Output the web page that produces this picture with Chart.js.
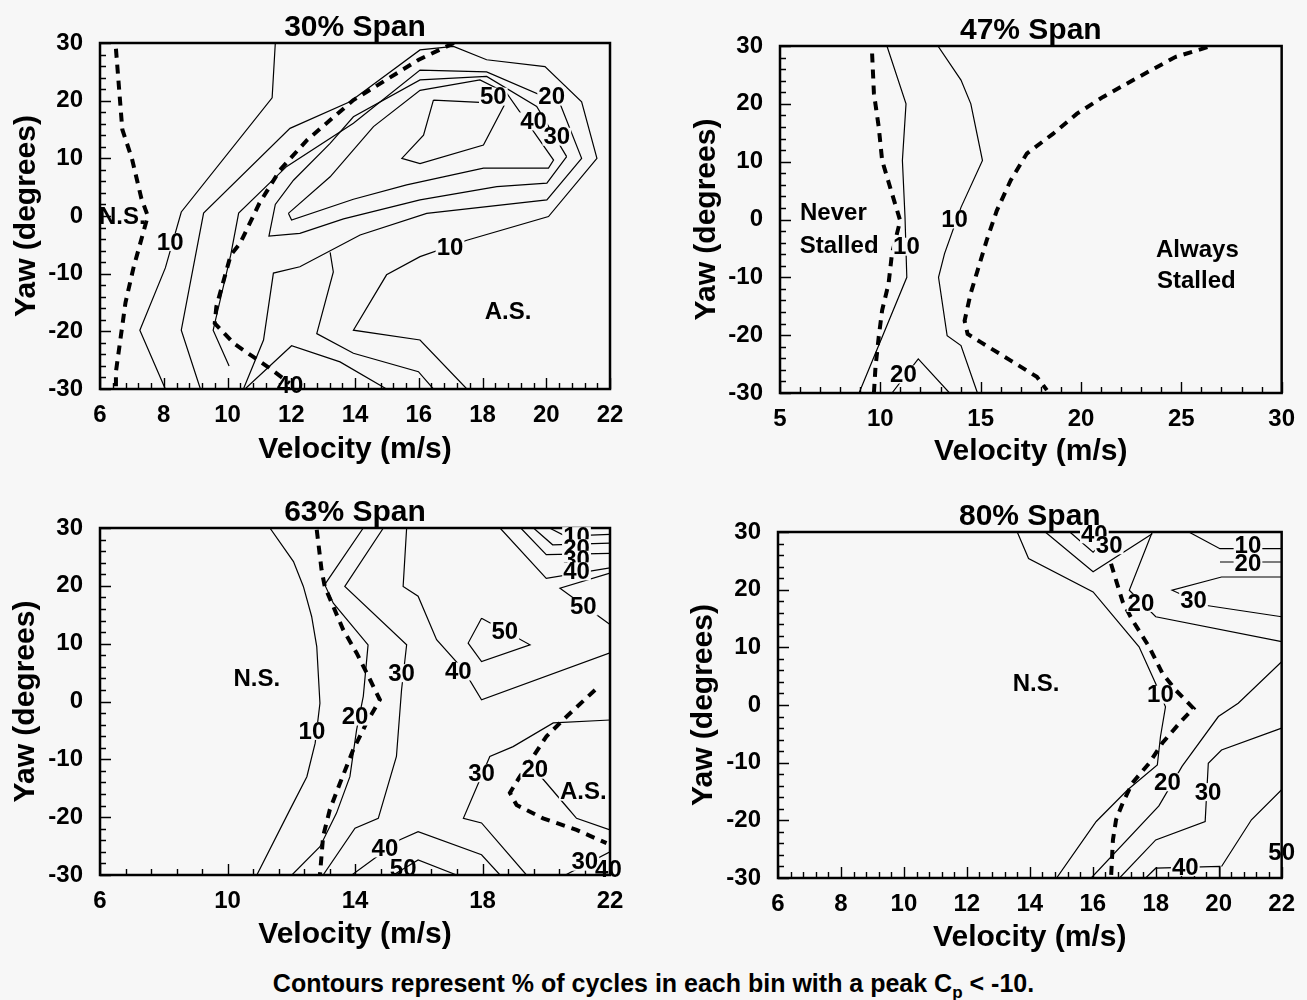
<!DOCTYPE html>
<html lang="en">
<head>
<meta charset="UTF-8">
<title>Stall contours by span</title>
<script src="https://cdn.jsdelivr.net/npm/chart.js@4.4.1/dist/chart.umd.min.js"></script>
<style>
  body { margin: 0; background: #f7f7f7; width: 1307px; height: 1000px; position: relative; overflow: hidden;
         font-family: 'Liberation Sans', Arial, sans-serif; }
  canvas { position: absolute; }
  #note { position: absolute; left: 0; width: 1307px; top: 969px; text-align: center; font-weight: bold; font-size: 25px; }
  #note sub { font-size: 17px; }
</style>
</head>
<body>
<canvas id="c30" width="640" height="480" style="left:0;top:0"></canvas>
<canvas id="c47" width="627" height="480" style="left:680px;top:0"></canvas>
<canvas id="c63" width="640" height="470" style="left:0;top:490px"></canvas>
<canvas id="c80" width="627" height="470" style="left:680px;top:490px"></canvas>
<div id="note">Contours represent % of cycles in each bin with a peak C<sub>p</sub> &lt; -10.</div>

<script>
// ---- data: [velocity (m/s), yaw (deg)] ----

// 30% span
const s30_c10 = [[11.5,30],[11.4,20.5],[8.55,0.7],[8.05,-9],[7.25,-19.8],[8.05,-30]];
const s30_loop = [[9.15,-30],[8.55,-19.8],[9.25,0.5],[11.96,15.2],[13.84,19.8],[16.04,28.8],[17.09,29.4],[18.13,27.1],[19.96,25.9],[21.11,19.8],[21.59,10.0],[20.07,-0.1],[17.51,-4.2],[16.04,-7.05],[14.99,-10.2],[13.95,-19.8],[16.04,-21.5],[17.51,-30]];
const s30_c20 = [[10.05,-26],[9.55,-19.8],[10.1,-6.8],[10.35,0.5],[11.86,8.6],[13.95,16.1],[16.04,25.3],[18.13,25.0],[20.43,19.5],[21.11,10.0],[20.02,2.8],[16.25,0.46],[14.16,-3.3],[12.27,-8.8],[11.44,-9.9],[11.13,-21.5],[10.5,-30]];
const s30_c30 = [[20.64,10.3],[20.02,5.7],[18.45,5.1],[16.04,2.8],[13.64,-0.5],[12.27,-3.0],[11.3,-3.5],[11.5,2],[12.07,6.2],[13.22,12.6],[13.95,17.2],[16.04,23.6],[18.13,24.2],[19.7,19.0],[20.64,10.3]];
const s30_c40 = [[11.91,0.46],[12.01,-0.7],[13.95,2.9],[15.62,5.4],[18.03,8.3],[20.07,8.3],[20.23,9.7],[18.76,21.3],[17.92,23.6],[16.04,21.8],[14.58,15.5],[13.22,6.8],[11.91,0.46]];
const s30_c50 = [[16.46,20.1],[18.71,19.5],[18.03,12.3],[16.04,9.1],[15.47,10.0],[16.15,14.0],[16.46,20.1]];
const s30_low = [[13.22,-6.3],[13.32,-9.7],[12.8,-20.4],[13.95,-23.8],[15.99,-27.0],[16.46,-30]];
const s30_bot = [[10.55,-30],[12.01,-22.5],[13.53,-25.3],[14.99,-30]];
const s30_nsLine = [[6.5,29],[6.6,22],[6.7,15],[7.0,10],[7.3,3],[7.5,0],[7.2,-6],[7.05,-9],[6.8,-15],[6.65,-21],[6.5,-27],[6.5,-30]];
const s30_asLine = [[17.1,30],[16.0,27.1],[13.95,20.1],[12.5,13.2],[11.65,8],[11.0,2.2],[10.4,-4.7],[10.1,-6.8],[9.65,-15.7],[9.6,-18.6],[10.2,-22.1],[10.8,-24.4],[11.25,-26.1],[11.95,-29]];
const s30_labels = [['N.S.',6.7,0,1],['10',8.2,-4.5],['10',16.98,-5.4],['50',18.34,20.7],['20',20.17,20.7],['40',19.6,16.4],['30',20.33,13.75],['A.S.',18.8,-16.6,1],['40',11.96,-29.3,1]];

// 47% span
const s47_c10a = [[10.33,30],[11.28,20.0],[11.1,10.2],[11.23,0.4],[11.32,-10.0],[8.94,-30]];
const s47_c10b = [[12.87,30],[14.02,24.1],[14.51,20.0],[15.09,10.2],[14.02,2.1],[13.2,-5.9],[12.9,-10.0],[13.33,-20.1],[14.02,-21.8],[14.84,-30]];
const s47_c20 = [[10.58,-30],[11.89,-24.1],[13.45,-30]];
const s47_nsLine = [[9.59,28.7],[9.68,21.8],[9.92,16.0],[10.09,10.2],[10.58,4.5],[10.99,-0.2],[10.58,-5.9],[10.41,-11.1],[10.09,-15.7],[9.92,-20.3],[9.76,-25.5],[9.68,-30]];
const s47_asLine = [[26.3,29.8],[24.7,28.1],[22.7,24.3],[21.1,21.2],[19.8,18.3],[18.6,14.8],[17.3,11.4],[16.5,6.8],[15.8,1.5],[15.3,-3.6],[14.9,-8.2],[14.5,-12.8],[14.2,-17.5],[14.35,-19.8],[15.0,-21.2],[16.5,-24.4],[17.8,-27.2],[18.3,-29.5]];
const s47_labels = [['Never',7.66,1.3,1],['Stalled',7.95,-4.4,1],['10',11.3,-4.7],['10',13.7,0],['20',11.15,-26.8],['Always',25.8,-5.1,1],['Stalled',25.75,-10.5,1]];

// 63% span
const s63_c10 = [[11.33,30],[12.07,24.2],[12.38,19.9],[12.64,14.7],[12.8,9.5],[12.9,-0.3],[12.75,-7.2],[12.49,-13.0],[11.96,-18.7],[10.92,-30]];
const s63_c20 = [[14.26,30],[13.05,20.2],[13.32,17.0],[14.41,9.8],[14.26,0.9],[14.05,-4.9],[13.84,-13.0],[13.42,-19.3],[12.9,-25.1],[12.02,-30]];
const s63_c30 = [[14.89,30],[13.68,19.9],[15.62,9.8],[15.46,2.0],[15.3,-9.5],[14.73,-20.2],[14.0,-21.9],[13.0,-30]];
const s63_c40 = [[15.62,30],[15.51,19.9],[15.98,18.2],[16.56,10.7],[17.4,5.5],[17.97,0.3],[22,8.4]];
const s63_c50 = [[17.97,14.4],[17.55,10.1],[17.97,6.9],[19.49,9.8],[17.97,14.4]];
const s63_top10 = [[20.1,30],[20.6,28.6],[22,28.9]];
const s63_top20 = [[19.6,30],[20.2,27.1],[22,27.4]];
const s63_top30 = [[19.2,30],[20.0,25.4],[22,25.6]];
const s63_top40 = [[18.55,30],[20.0,21.3],[22,23.1]];
const s63_top50 = [[22,22.2],[20.43,19.6],[22,13.3]];
const s63_low30 = [[22,-3.2],[20.22,-3.7],[18.96,-7.8],[18.23,-9.5],[17.4,-20.2],[17.97,-21.0],[19.38,-30]];
const s63_low20 = [[19.6,-11.5],[20.64,-18.2],[20.95,-20.2],[22,-22.2]];
const s63_corner = [[20.6,-30],[22,-26]];
const s63_bot40 = [[13.9,-30],[15.41,-23.9],[15.98,-22.5],[17.97,-26.5],[18.55,-30]];
const s63_bot50 = [[15.2,-30],[15.98,-27.4],[17.19,-30]];
const s63_nsLine = [[12.8,29.7],[12.95,22.8],[13.05,19.9],[13.32,16.4],[13.63,12.4],[14.05,8.4],[14.47,3.8],[14.78,0.3],[14.36,-3.7],[13.94,-8.4],[13.53,-14.1],[13.21,-18.7],[13.0,-23.3],[12.9,-30]];
const s63_asLine = [[21.53,2.0],[20.64,-2.6],[20.01,-6.0],[19.59,-9.5],[19.17,-13.0],[18.86,-15.8],[19.07,-17.9],[19.9,-20.2],[20.95,-22.2],[21.89,-24.5]];
const s63_labels = [['N.S.',10.92,4.05,1],['10',12.65,-5.1],['20',14.0,-2.6],['30',15.46,4.9],['40',17.24,5.2],['50',18.7,12.1],['50',21.16,16.4],
  ['10',20.95,28.6],['20',20.95,26.5],['30',20.95,24.5],['40',20.95,22.5],['30',17.97,-12.4],['20',19.64,-11.8],['A.S.',21.16,-15.6],
  ['40',14.94,-25.4],['50',15.51,-28.8,1],['30',21.21,-27.7],['40',21.95,-29.1,1]];

// 80% span
const s80_c10 = [[13.6,30],[13.96,25.4],[16.01,19.6],[17.47,10.1],[18.0,3.7],[18.31,-0.3],[18.15,-5.5],[18.05,-10.4],[17.11,-14.7],[16.11,-20.2],[14.85,-30]];
const s80_c20 = [[17.89,30],[17.16,19.9],[18.0,15.3],[22,11.0]];
const s80_topV30 = [[14.49,30],[16.01,23.1],[17.89,29.7]];
const s80_topV40 = [[15.27,30],[16.01,26.5],[16.4,28.5]];
const s80_top10 = [[19.05,30],[20.04,27.1],[22,27.1]];
const s80_top20 = [[20.04,24.8],[22,24.8]];
const s80_top30 = [[22,22.2],[20.09,22.2],[18.52,19.9],[19.57,17.3],[22,15.3]];
const s80_low20 = [[15.95,-30],[18.1,-17.5],[18.84,-10.6],[19.99,-2.0],[20.62,0.3],[22,7.5]];
const s80_low30 = [[16.85,-30],[18.0,-23.4],[19.57,-20.2],[19.67,-10.1],[20.09,-7.8],[22,-4.0]];
const s80_low40 = [[17.68,-30],[18.0,-28.3],[20.04,-28.0],[20.04,-30]];
const s80_low50 = [[20.09,-28.0],[21.04,-19.9],[22,-14.7]];
const s80_nsLine = [[16.58,24.5],[16.74,21.6],[16.95,17.9],[17.26,14.7],[17.79,10.1],[18.21,5.5],[18.63,2.6],[19.2,-0.6],[18.84,-2.6],[18.21,-6.6],[17.79,-10.1],[17.26,-13.5],[16.95,-17.0],[16.74,-19.9],[16.64,-23.4],[16.58,-30]];
const s80_labels = [['N.S.',14.2,3.8,1],['40',16.05,29.6],['30',16.52,27.7],['10',20.93,27.7],['20',20.93,24.6],['20',17.53,17.7],['30',19.2,18.2],
  ['10',18.15,1.8],['20',18.37,-13.4],['30',19.66,-15.1],['40',18.94,-28.1],['50',22.0,-25.5,1]];

const BG = '#f7f7f7';
Chart.defaults.font.family = "'Liberation Sans', Arial, sans-serif";
Chart.defaults.color = '#000';

function decor(cfg) {
  return {
    id: 'decor',
    beforeDatasetsDraw(chart) {
      const { ctx, chartArea: a, scales: { x, y } } = chart;
      ctx.save();
      ctx.strokeStyle = '#000';
      ctx.lineWidth = 1.4;
      ctx.beginPath();
      for (let i = 0; i <= 30; i++) {
        const v = -30 + i * 2;
        const py = Math.round(y.getPixelForValue(v)) + 0.5;
        const len = v % 10 === 0 ? 11 : 6;
        ctx.moveTo(a.left, py); ctx.lineTo(a.left + len, py);
      }
      const n = Math.round((cfg.xMax - cfg.xMin) / cfg.minor);
      const per = Math.round(cfg.step / cfg.minor);
      for (let i = 0; i <= n; i++) {
        const v = cfg.xMin + i * cfg.minor;
        const px = Math.round(x.getPixelForValue(v)) + 0.5;
        const len = i % per === 0 ? 11 : 6;
        ctx.moveTo(px, a.bottom); ctx.lineTo(px, a.bottom - len);
      }
      ctx.stroke();
      ctx.restore();
    },
    afterDatasetsDraw(chart) {
      const { ctx, chartArea: a, scales: { x, y } } = chart;
      ctx.save();
      ctx.strokeStyle = '#000';
      ctx.lineWidth = 2.5;
      ctx.strokeRect(a.left, a.top, a.right - a.left, a.bottom - a.top);
      ctx.fillStyle = '#000';
      ctx.textAlign = 'center';
      ctx.textBaseline = 'middle';
      ctx.font = "bold 30px 'Liberation Sans', Arial, sans-serif";
      ctx.fillText(cfg.title, (a.left + a.right) / 2, a.top - 15);
      ctx.font = "bold 24px 'Liberation Sans', Arial, sans-serif";
      cfg.labels.forEach(([t, vx, vy, plain]) => {
        const px = x.getPixelForValue(vx), py = y.getPixelForValue(vy);
        if (!plain) {
          const w = ctx.measureText(t).width;
          ctx.fillStyle = BG;
          ctx.fillRect(px - w / 2 - 1, py - 9, w + 2, 18);
          ctx.fillStyle = '#000';
        }
        ctx.fillText(t, px, py + 1);
      });
      ctx.restore();
    }
  };
}

function line(pts, dashed) {
  return {
    data: pts.map(([vx, vy]) => ({ x: vx, y: vy })),
    showLine: true,
    borderColor: '#000',
    borderWidth: dashed ? 4 : 1.2,
    borderDash: dashed ? [9, 7] : [],
    pointRadius: 0,
    tension: 0,
    fill: false
  };
}

function panel(p) {
  const [pl, pt, pr, pb] = p.plot;
  const yW = pl - p.left, xH = p.top + p.h - pb;
  new Chart(document.getElementById(p.id), {
    type: 'scatter',
    data: { datasets: p.solid.map(s => line(s, false)).concat(p.dashed.map(s => line(s, true))) },
    options: {
      responsive: false,
      animation: false,
      devicePixelRatio: 1,
      layout: { padding: { left: 0, top: pt - p.top, right: p.left + p.w - pr, bottom: 0 } },
      plugins: { legend: { display: false }, tooltip: { enabled: false } },
      scales: {
        x: {
          type: 'linear', min: p.xMin, max: p.xMax,
          grid: { display: false, drawTicks: false }, border: { display: false },
          ticks: { stepSize: p.step, autoSkip: false, maxRotation: 0, padding: 12, font: { size: 24, weight: 'bold' } },
          title: { display: true, text: 'Velocity (m/s)', font: { size: 30, weight: 'bold' }, padding: { top: 0, bottom: p.xtp } },
          afterFit: s => { s.height = xH; }
        },
        y: {
          type: 'linear', min: -30, max: 30,
          grid: { display: false, drawTicks: false }, border: { display: false },
          ticks: { stepSize: 10, autoSkip: false, padding: 17, font: { size: 24, weight: 'bold' } },
          title: { display: true, text: 'Yaw (degrees)', font: { size: 30, weight: 'bold' }, padding: { top: p.ytp, bottom: 0 } },
          afterFit: s => { s.width = yW; }
        }
      }
    },
    plugins: [decor({ title: p.title, labels: p.labels, xMin: p.xMin, xMax: p.xMax, step: p.step, minor: p.minor })]
  });
}

panel({ id: 'c30', left: 0, top: 0, w: 640, h: 480, plot: [100, 43, 610, 389], xMin: 6, xMax: 22, step: 2, minor: 0.4, xtp: 12, ytp: 9,
  title: '30% Span', labels: s30_labels,
  solid: [s30_c10, s30_loop, s30_c20, s30_c30, s30_c40, s30_c50, s30_low, s30_bot], dashed: [s30_nsLine, s30_asLine] });

panel({ id: 'c47', left: 680, top: 0, w: 627, h: 480, plot: [780, 46, 1288, 393], xMin: 5, xMax: 30, step: 5, minor: 1, xtp: 10, ytp: 9,
  title: '47% Span', labels: s47_labels,
  solid: [s47_c10a, s47_c10b, s47_c20], dashed: [s47_nsLine, s47_asLine] });

panel({ id: 'c63', left: 0, top: 490, w: 640, h: 470, plot: [100, 528, 610, 875], xMin: 6, xMax: 22, step: 4, minor: 0.8, xtp: 7, ytp: 8,
  title: '63% Span', labels: s63_labels,
  solid: [s63_c10, s63_c20, s63_c30, s63_c40, s63_c50, s63_top10, s63_top20, s63_top30, s63_top40, s63_top50, s63_low30, s63_low20, s63_corner, s63_bot40, s63_bot50],
  dashed: [s63_nsLine, s63_asLine] });

panel({ id: 'c80', left: 680, top: 490, w: 627, h: 470, plot: [778, 532, 1287, 878], xMin: 6, xMax: 22, step: 2, minor: 0.4, xtp: 4, ytp: 6,
  title: '80% Span', labels: s80_labels,
  solid: [s80_c10, s80_c20, s80_topV30, s80_topV40, s80_top10, s80_top20, s80_top30, s80_low20, s80_low30, s80_low40, s80_low50],
  dashed: [s80_nsLine] });
</script>
</body>
</html>
